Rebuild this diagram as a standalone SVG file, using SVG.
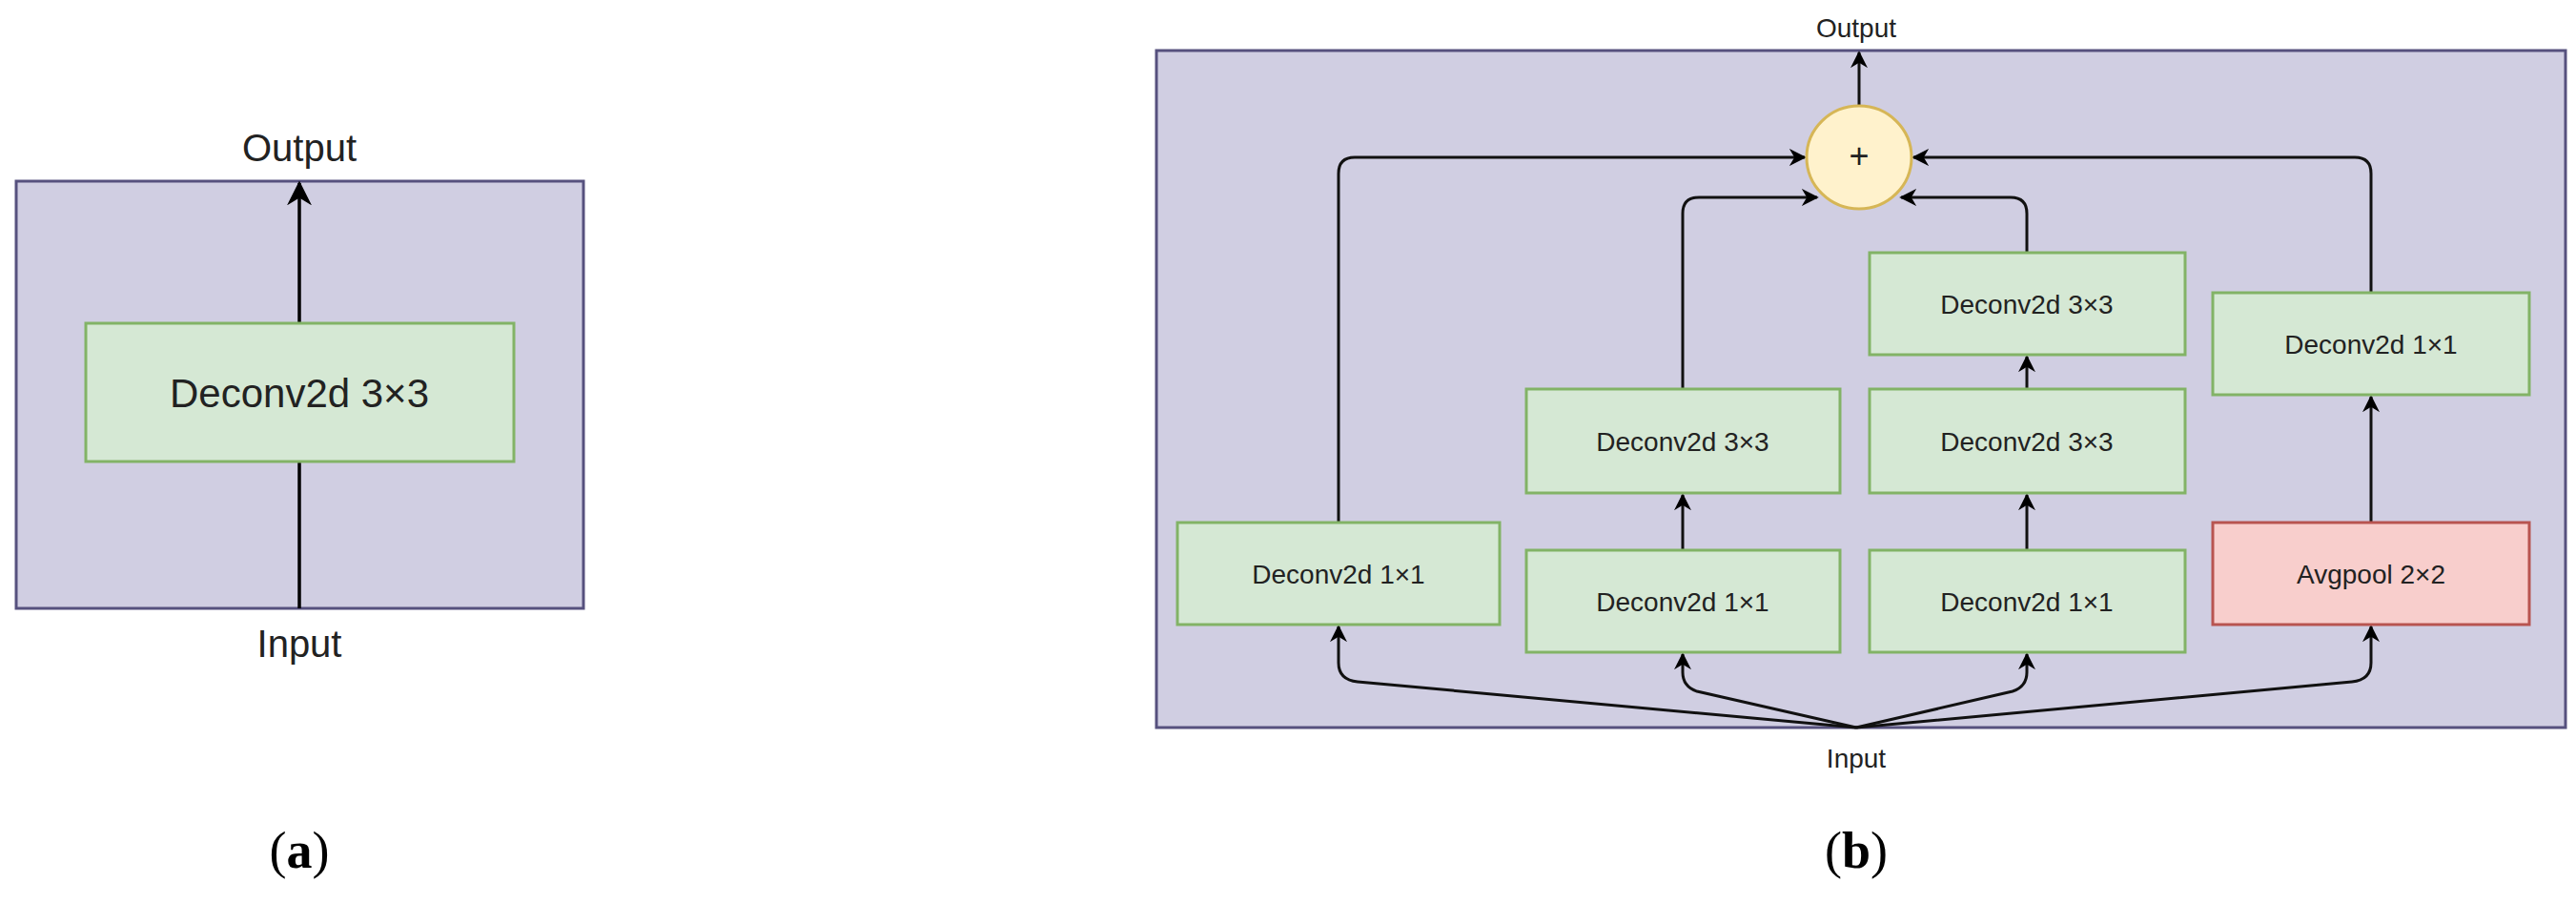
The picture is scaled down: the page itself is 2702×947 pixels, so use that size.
<svg xmlns="http://www.w3.org/2000/svg" width="2702" height="947" viewBox="0 0 2702 947">
<style>
.bg{fill:#d0cee2;stroke:#56517e;stroke-width:3}
.g{fill:#d5e8d4;stroke:#82b366;stroke-width:3}
.r{fill:#f8cecc;stroke:#b85450;stroke-width:3}
.t{font-family:"Liberation Sans",Arial,sans-serif;fill:#222;text-anchor:middle;dominant-baseline:central}
.c{fill:none;stroke:#000;stroke-width:3.5}
.c2{fill:none;stroke:#111;stroke-width:3}
.cap{font-family:"Liberation Serif","Times New Roman",serif;font-size:54px;text-anchor:middle;fill:#000}
</style>
<defs>
<marker id="ah" viewBox="0 0 10 10" refX="9" refY="5" markerWidth="9" markerHeight="9" markerUnits="userSpaceOnUse" orient="auto"><path d="M0,0 L10,5 L0,10 L3,5 Z" fill="#000"/></marker>
<marker id="aa" viewBox="0 0 10 10" refX="9" refY="5" markerWidth="26" markerHeight="26" markerUnits="userSpaceOnUse" orient="auto"><path d="M0,0 L10,5 L0,10 L3,5 Z" fill="#000"/></marker>
<marker id="ab" viewBox="0 0 10 10" refX="9" refY="5" markerWidth="18" markerHeight="18" markerUnits="userSpaceOnUse" orient="auto"><path d="M0,0 L10,5 L0,10 L3,5 Z" fill="#000"/></marker>
</defs>
<g id="panelA">
<rect class="bg" x="17" y="190" width="595" height="448"/>
</g>
<g id="panelB">
<rect class="bg" x="1213" y="53" width="1478" height="710"/>
</g>
<g id="connectors">
<path class="c" d="M314,638 V342" marker-end="url(#aa)"/>
<path class="c" d="M314,339 V192" marker-end="url(#aa)"/>
<path class="c2" d="M1950,110 V55" marker-end="url(#ab)"/>
<path class="c2" d="M1404,548 V182 Q1404,165 1421,165 H1893" marker-end="url(#ab)"/>
<path class="c2" d="M1765,408 V224 Q1765,207 1782,207 H1906" marker-end="url(#ab)"/>
<path class="c2" d="M2126,265 V224 Q2126,207 2109,207 H1994" marker-end="url(#ab)"/>
<path class="c2" d="M2487,307 V182 Q2487,165 2470,165 H2007" marker-end="url(#ab)"/>
<path class="c2" d="M1765,577 V519" marker-end="url(#ab)"/>
<path class="c2" d="M2126,577 V519" marker-end="url(#ab)"/>
<path class="c2" d="M2126,408 V374" marker-end="url(#ab)"/>
<path class="c2" d="M2487,548 V416" marker-end="url(#ab)"/>
<path class="c2" d="M1947,763 L1424,715 Q1404,713 1404,695 V657" marker-end="url(#ab)"/>
<path class="c2" d="M1947,763 L1780,725 Q1765,720 1765,705 V686" marker-end="url(#ab)"/>
<path class="c2" d="M1947,763 L2111,725 Q2126,720 2126,705 V686" marker-end="url(#ab)"/>
<path class="c2" d="M1947,763 L2467,715 Q2487,713 2487,695 V657" marker-end="url(#ab)"/>
</g>
<g id="a-deconv"><rect class="g" x="90" y="339" width="449" height="145"/><text class="t" x="314" y="412" font-size="42">Deconv2d 3×3</text></g>
<text class="t" x="314" y="155" font-size="40">Output</text>
<text class="t" x="314" y="675" font-size="40">Input</text>
<g id="sum"><ellipse cx="1950" cy="165" rx="55" ry="54" fill="#fff2cc" stroke="#d6b656" stroke-width="3"/><text class="t" x="1950" y="163" font-size="36">+</text></g>
<g id="b1"><rect class="g" x="1235" y="548" width="338" height="107"/><text class="t" x="1404" y="602" font-size="28">Deconv2d 1×1</text></g>
<g id="b2"><rect class="g" x="1601" y="408" width="329" height="109"/><text class="t" x="1765" y="463" font-size="28">Deconv2d 3×3</text></g>
<g id="b3"><rect class="g" x="1601" y="577" width="329" height="107"/><text class="t" x="1765" y="631" font-size="28">Deconv2d 1×1</text></g>
<g id="b4"><rect class="g" x="1961" y="265" width="331" height="107"/><text class="t" x="2126" y="319" font-size="28">Deconv2d 3×3</text></g>
<g id="b5"><rect class="g" x="1961" y="408" width="331" height="109"/><text class="t" x="2126" y="463" font-size="28">Deconv2d 3×3</text></g>
<g id="b6"><rect class="g" x="1961" y="577" width="331" height="107"/><text class="t" x="2126" y="631" font-size="28">Deconv2d 1×1</text></g>
<g id="b7"><rect class="g" x="2321" y="307" width="332" height="107"/><text class="t" x="2487" y="361" font-size="28">Deconv2d 1×1</text></g>
<g id="b8"><rect class="r" x="2321" y="548" width="332" height="107"/><text class="t" x="2487" y="602" font-size="28">Avgpool 2×2</text></g>
<text class="t" x="1947" y="29" font-size="28">Output</text>
<text class="t" x="1947" y="795" font-size="28">Input</text>
<text class="cap" x="314" y="910">(<tspan font-weight="bold">a</tspan>)</text>
<text class="cap" x="1947" y="910">(<tspan font-weight="bold">b</tspan>)</text>
</svg>
